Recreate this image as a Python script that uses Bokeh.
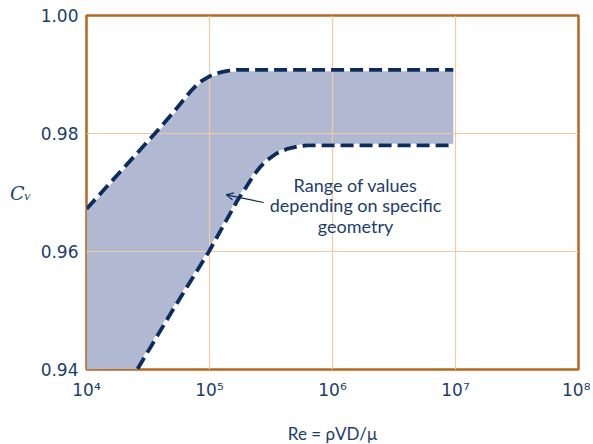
from bokeh.plotting import figure
from bokeh.models import FixedTicker, Arrow, OpenHead, Range1d
from bokeh.core.properties import value
from bokeh.embed import file_html
from bokeh.resources import INLINE

# ---- data ----
upper_re = [1.0e4, 3.6e4, 5.0e4, 6.1e4, 7.2e4, 8.3e4, 1.0e5, 1.2e5, 1.4e5, 1.7e5, 2.2e5, 9.6e6]
upper_cv = [0.9672, 0.9800, 0.9834, 0.9856, 0.9874, 0.9887, 0.9897, 0.9903, 0.9906, 0.9908, 0.9908, 0.9908]

lower_re = [2.6e4, 5.0e4, 9.9e4, 1.68e5, 2.0e5, 2.3e5, 2.6e5, 2.95e5, 3.5e5, 4.3e5, 5.2e5, 6.2e5, 9.6e6]
lower_cv = [0.9401, 0.9500, 0.9600, 0.9686, 0.9710, 0.9730, 0.9744, 0.9755, 0.9766, 0.9774, 0.9778, 0.9780, 0.9780]

x_ticks = [1e4, 1e5, 1e6, 1e7, 1e8]
x_tick_labels = ["10\u2074", "10\u2075", "10\u2076", "10\u2077", "10\u2078"]
y_ticks = [0.94, 0.96, 0.98, 1.00]

note_lines = ["Range of values", "depending on specific", "geometry"]
note_x = 1.54e6
note_y = [0.9712, 0.9678, 0.9644]
arrow_tail = (2.76e5, 0.9683)
arrow_head = (1.37e5, 0.9696)

NAVY = "#0b2d5e"
TEXT = "#1d3d6b"
FRAME = "#b8671f"
GRID = "#f3caa2"
FILL = "#b0b8d2"

p = figure(x_axis_type="log", frame_width=492, frame_height=354,
           x_range=Range1d(1e4, 1e8), y_range=Range1d(0.94, 1.00),
           output_backend="svg", toolbar_location=None,
           min_border_left=86, min_border_right=12, min_border_top=15, min_border_bottom=73)
p.width = 590
p.height = 442

# band fill
px = upper_re + lower_re[::-1] + [1e4]
py = upper_cv + lower_cv[::-1] + [0.94]
band = p.patch(px, py, fill_color=FILL, line_color=None)
band.level = "image"

for xs, ys in ((upper_re, upper_cv), (lower_re, lower_cv)):
    p.line(xs, ys, line_color="white", line_width=3.0)
    p.line(xs, ys, line_color=NAVY, line_width=3.8, line_dash="13 6")

# axes / grid / frame
p.outline_line_color = FRAME
p.outline_line_width = 2.5
p.xaxis.ticker = FixedTicker(ticks=x_ticks)
p.xaxis.major_label_overrides = {t: l for t, l in zip(x_ticks, x_tick_labels)}
p.yaxis.ticker = FixedTicker(ticks=y_ticks)
p.yaxis.major_label_overrides = {t: f"{t:.2f}" for t in y_ticks}
for ax in (p.xaxis[0], p.yaxis[0]):
    ax.axis_line_color = None
    ax.major_tick_line_color = None
    ax.minor_tick_line_color = None
    ax.major_tick_out = 0
    ax.major_tick_in = 0
    ax.minor_tick_out = 0
    ax.major_label_text_color = TEXT
    ax.major_label_text_font = "DejaVu Sans"
p.xaxis.major_label_text_font_size = "17px"
p.yaxis.major_label_text_font_size = "17px"
p.xaxis.major_label_standoff = 10
p.yaxis.major_label_standoff = 8
p.xaxis.axis_label = "Re = \u03c1VD/\u03bc"
p.xaxis.axis_label_text_font = "Lato"
p.xaxis.axis_label_text_font_style = "normal"
p.xaxis.axis_label_text_font_size = "17px"
p.xaxis.axis_label_text_color = TEXT
p.xaxis.axis_label_standoff = 20

# Cv as horizontal y-axis label
p.yaxis.axis_label = "C\u1d65"
p.yaxis.axis_label_text_font = "DejaVu Serif"
p.yaxis.axis_label_text_font_style = "italic"
p.yaxis.axis_label_text_font_size = "19px"
p.yaxis.axis_label_text_color = TEXT
p.yaxis.axis_label_standoff = 6
try:
    p.yaxis.axis_label_orientation = "horizontal"
except Exception:
    pass

p.xgrid.ticker = FixedTicker(ticks=x_ticks)
p.ygrid.ticker = FixedTicker(ticks=y_ticks)
p.grid.grid_line_color = GRID
p.grid.grid_line_width = 1.2
p.xgrid.minor_grid_line_color = None

# note + arrow
p.text(x=[note_x] * 3, y=note_y, text=note_lines, text_align="center", text_baseline="middle",
       text_font=value("Lato"), text_font_size="18px", text_color=TEXT)
p.add_layout(Arrow(end=OpenHead(size=7, line_color=NAVY, line_width=1.2),
                   x_start=arrow_tail[0], y_start=arrow_tail[1],
                   x_end=arrow_head[0], y_end=arrow_head[1],
                   line_color=NAVY, line_width=1.2))

p.background_fill_color = "white"
p.border_fill_color = "white"

open("out.html", "w").write(file_html(p, INLINE))
